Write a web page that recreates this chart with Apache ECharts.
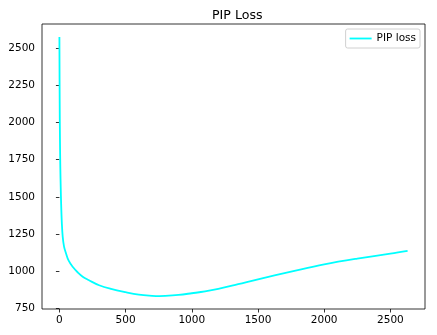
<!DOCTYPE html>
<html>
<head>
<meta charset="utf-8">
<script src="https://cdn.jsdelivr.net/npm/echarts@6/dist/echarts.min.js"></script>
<style>
  html, body { margin: 0; padding: 0; background: #fff; }
  #chart { width: 437px; height: 335px; }
</style>
</head>
<body>
<div id="chart"></div>
<script>
// iteration -> PIP loss
const iterations = [0, 2, 4, 7, 10, 13, 18, 25, 35, 50, 70, 100, 140, 176, 220, 300, 390, 500, 600, 700, 755, 800, 900, 1000, 1100, 1200, 1350, 1500, 1750, 2000, 2250, 2500, 2630];
const pipLoss = [2576, 2150, 1900, 1690, 1560, 1454, 1330, 1230, 1165, 1119, 1070, 1029, 990, 962, 940, 905, 880, 858, 842, 834, 832, 833, 840, 851, 863, 880, 912, 945, 996, 1045, 1084, 1117, 1136];
const xTicks = [0, 500, 1000, 1500, 2000, 2500];
const yTicks = [750, 1000, 1250, 1500, 1750, 2000, 2250, 2500];

const font = 'DejaVu Sans';
const chart = echarts.init(document.getElementById('chart'), null, { renderer: 'canvas' });

const axisCommon = {
  type: 'value',
  splitLine: { show: false },
  axisLine: { show: false },
  axisTick: { show: true, length: 3.5, lineStyle: { color: '#000', width: 0.8 } },
  axisLabel: { color: '#000', fontFamily: font, fontSize: 10.5, formatter: v => String(v) }
};

chart.setOption({
  animation: false,
  backgroundColor: '#fff',
  title: {
    text: 'PIP Loss',
    left: 207,
    top: 4,
    textStyle: { fontFamily: font, fontSize: 12.6, fontWeight: 'normal', color: '#000' }
  },
  legend: {
    right: 17,
    top: 29,
    icon: 'rect',
    itemWidth: 22,
    itemHeight: 1.8,
    itemGap: 8,
    padding: [4, 4, 4, 4],
    backgroundColor: '#fff',
    borderColor: '#d0d0d0',
    borderWidth: 1,
    borderRadius: 2,
    textStyle: { fontFamily: font, fontSize: 10.5, color: '#000' },
    data: ['PIP loss']
  },
  grid: {
    left: 42, right: 12, top: 24, bottom: 26,
    show: true, borderColor: '#000', borderWidth: 0.8, backgroundColor: '#fff'
  },
  xAxis: Object.assign({}, axisCommon, {
    min: -131.5,
    max: 2761.5,
    axisTick: Object.assign({}, axisCommon.axisTick, { customValues: xTicks }),
    axisLabel: Object.assign({}, axisCommon.axisLabel, { customValues: xTicks, margin: 6 })
  }),
  yAxis: Object.assign({}, axisCommon, {
    min: 745,
    max: 2663,
    axisTick: Object.assign({}, axisCommon.axisTick, { customValues: yTicks }),
    axisLabel: Object.assign({}, axisCommon.axisLabel, { customValues: yTicks, margin: 7 })
  }),
  series: [{
    name: 'PIP loss',
    type: 'line',
    data: iterations.map((x, i) => [x, pipLoss[i]]),
    showSymbol: false,
    symbol: 'none',
    smooth: 0.4,
    itemStyle: { color: '#00ffff' },
    lineStyle: { color: '#00ffff', width: 1.8 }
  }]
});
</script>
</body>
</html>
